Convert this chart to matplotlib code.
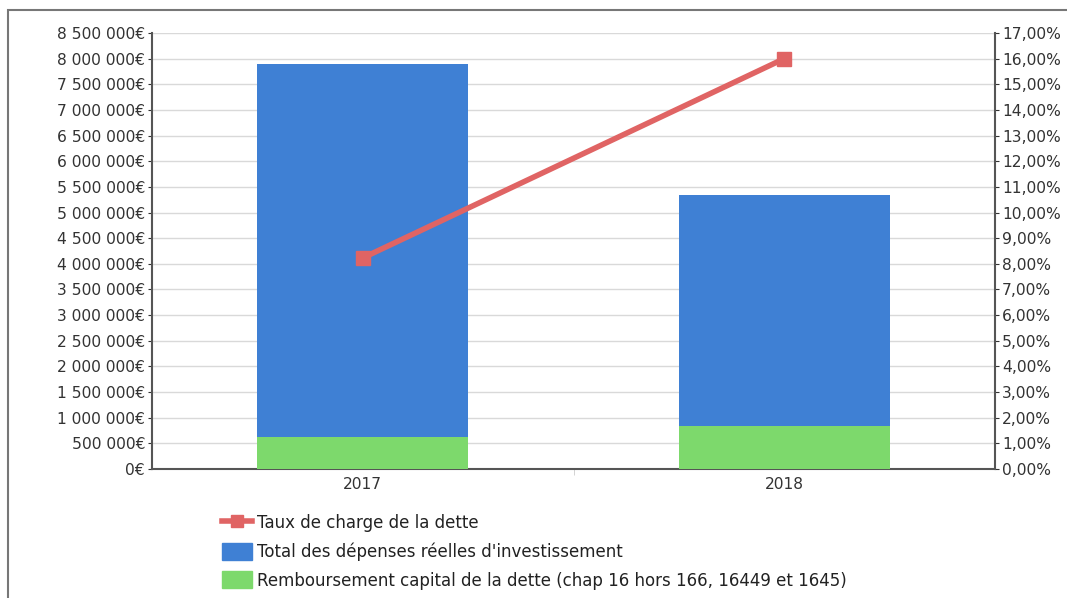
import matplotlib.pyplot as plt
from matplotlib.lines import Line2D
from matplotlib.patches import Patch, Rectangle
from matplotlib.ticker import FuncFormatter, MultipleLocator

years = ['2017', '2018']
total_invest = [7900000, 5340000]
remb_capital = [630000, 840000]
taux_charge = [8.23, 16.0]

blue = '#3f80d4'
green = '#7dd96c'
red = '#e06464'

fig = plt.figure(figsize=(10.67, 5.98), dpi=100)
ax = fig.add_axes([152 / 1067, 1 - 469 / 598, 843 / 1067, 436 / 598])

x = range(len(years))
ax.bar(x, total_invest, width=0.5, color=blue, zorder=2)
ax.bar(x, remb_capital, width=0.5, color=green, zorder=3)

ax.set_xlim(-0.5, 1.5)
ax.set_ylim(0, 8500000)
ax.yaxis.set_major_locator(MultipleLocator(500000))


def euro(v, pos):
    return f"{int(v):,}".replace(',', ' ') + '€'


ax.yaxis.set_major_formatter(FuncFormatter(euro))
ax.set_xticks(list(x))
ax.set_xticklabels(years)
ax.set_xticks([0.5], minor=True)
ax.tick_params(axis='x', which='major', length=0, pad=6, labelsize=11.2, colors='#333333')
ax.tick_params(axis='x', which='minor', length=4, color='#cccccc')
ax.tick_params(axis='y', length=3, pad=2, labelsize=11.2, colors='#333333')
ax.grid(axis='y', color='#d9d9d9', linewidth=1, zorder=0)
ax.set_axisbelow(True)
for s in ['left', 'bottom']:
    ax.spines[s].set_color('#555555')
    ax.spines[s].set_linewidth(1.5)
ax.spines['top'].set_visible(False)
ax.spines['right'].set_visible(False)

ax2 = ax.twinx()
ax2.plot(list(x), taux_charge, color=red, linewidth=4, marker='s', markersize=10, zorder=4)
ax2.set_ylim(0, 17)
ax2.yaxis.set_major_locator(MultipleLocator(1))
ax2.yaxis.set_major_formatter(FuncFormatter(lambda v, p: f"{v:.2f}".replace('.', ',') + '%'))
ax2.tick_params(axis='y', length=3, pad=2, labelsize=11.2, colors='#333333')
for s in ['left', 'bottom', 'top']:
    ax2.spines[s].set_visible(False)
ax2.spines['right'].set_color('#555555')
ax2.spines['right'].set_linewidth(1.5)

handles = [
    Line2D([0, 1, 1.6], [0, 0, 0], color=red, linewidth=4, marker='s', markersize=8,
           markevery=[1]),
    Patch(color=blue),
    Patch(color=green),
]
labels = [
    'Taux de charge de la dette',
    "Total des dépenses réelles d'investissement",
    'Remboursement capital de la dette (chap 16 hors 166, 16449 et 1645)',
]
leg = fig.legend(handles, labels, loc='upper left', bbox_to_anchor=(222 / 1067, 1 - 514 / 598),
                 frameon=False, fontsize=12, handlelength=1.8, handleheight=1.2,
                 handletextpad=0.3, labelspacing=0.62, borderaxespad=0, borderpad=0)
for t in leg.get_texts():
    t.set_color('#222222')

# outer frame of the chart
fig.add_artist(Rectangle((8 / 1067, -0.05), 1.2, 1 - 10 / 598 + 0.05, transform=fig.transFigure,
                         fill=False, edgecolor='#777777', linewidth=1.5))

fig.savefig('out.png', dpi=100)
